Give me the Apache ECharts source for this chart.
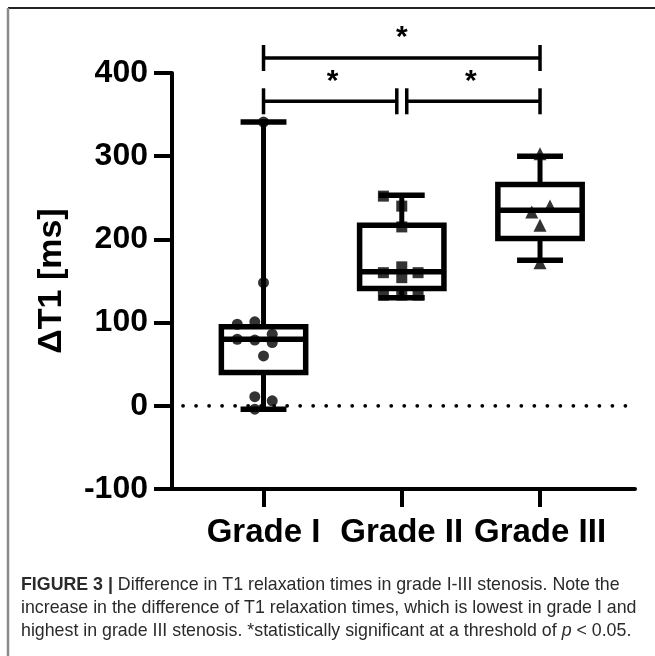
<!DOCTYPE html>
<html>
<head>
<meta charset="utf-8">
<script src="https://cdn.jsdelivr.net/npm/echarts@6/dist/echarts.min.js"></script>
<style>
html,body{margin:0;padding:0;background:#fff;}
#chart{width:655px;height:656px;}
</style>
</head>
<body>
<div id="chart"></div>
<script>
// ---- data ----
const categories = ['Grade I', 'Grade II', 'Grade III'];
const yTicks = [-100, 0, 100, 200, 300, 400];
// box statistics per category
const boxLow    = [-4, 130, 175];
const boxQ1     = [40, 141, 201];
const boxMedian = [80, 161, 235];
const boxQ3     = [95, 217, 266];
const boxHigh   = [341, 253, 300];
// individual values
const gradeIValues   = [341, 148, 101, 98, 86, 80, 79, 76, 60, 11, 6, -4];
const gradeIIValues  = [252, 240, 215, 167, 160, 160, 154, 133, 133, 133];
const gradeIIIValues = [303, 240, 233, 217, 172];
// significance comparisons (category index pairs) and label
const sigFrom  = [0, 0, 1];
const sigTo    = [2, 1, 2];
const sigLabel = ['*', '*', '*'];
const captionLines = [
  '{b|FIGURE 3 |} Difference in T1 relaxation times in grade I-III stenosis. Note the',
  'increase in the difference of T1 relaxation times, which is lowest in grade I and',
  'highest in grade III stenosis. *statistically significant at a threshold of {i|p} < 0.05.'
];

// ---- layout (not data) ----
const jitterI   = [0, 0, -0.063, -0.19, 0.063, -0.19, -0.063, 0.063, 0, -0.063, 0.063, -0.063];
const jitterII  = [-0.133, 0, 0, 0, -0.133, 0.118, 0, -0.133, 0, 0.118];
const jitterIII = [0, 0.072, -0.06, 0, 0];
const sigLevel  = [418, 366, 366];   // y level of bracket (axis units)
const sigGap    = [[0, 0], [0, -0.036], [0.036, 0]];
const FONT = '"Liberation Sans", Arial, Helvetica, sans-serif';
const CAP = 17.8;

const chart = echarts.init(document.getElementById('chart'), null, {renderer: 'canvas'});

const boxData = categories.map((c, i) => [i + 1, boxLow[i], boxQ1[i], boxMedian[i], boxQ3[i], boxHigh[i]]);
const sigData = sigFrom.map((f, i) => [f + 1 + sigGap[i][0], sigTo[i] + 1 + sigGap[i][1], sigLevel[i], i]);

function pts(values, jit, idx) {
  return values.map((v, k) => [idx + 1 + jit[k], v]);
}

const option = {
  animation: false,
  backgroundColor: '#fff',
  grid: {left: 172, right: 20, top: 73, bottom: 167},
  xAxis: {
    type: 'value', min: 0.338, max: 3.687,
    splitLine: {show: false},
    axisLine: {show: true, onZero: false, lineStyle: {color: '#000', width: 4}},
    axisTick: {show: true, customValues: [1, 2, 3], length: 18, lineStyle: {color: '#000', width: 4}},
    axisLabel: {
      show: true, customValues: [1, 2, 3], margin: 27,
      formatter: v => categories[Math.round(v) - 1] || '',
      color: '#000', fontSize: 33, fontWeight: 'bold', fontFamily: FONT
    }
  },
  yAxis: {
    type: 'value', min: -100, max: 400, interval: 100,
    name: 'ΔT1 [ms]', nameLocation: 'middle', nameGap: 103,
    nameTextStyle: {color: '#000', fontSize: 34, fontWeight: 'bold', fontFamily: FONT},
    splitLine: {show: false},
    axisLine: {show: true, onZero: false, lineStyle: {color: '#000', width: 4}},
    axisTick: {show: true, length: 18, lineStyle: {color: '#000', width: 4}},
    axisLabel: {margin: 24, color: '#000', fontSize: 32, fontWeight: 'bold', fontFamily: FONT}
  },
  series: [
    {
      type: 'line', silent: true, symbol: 'none',
      data: [[0.338 + 0.08, 0], [3.687 - 0.03, 0]],
      lineStyle: {color: '#000', width: 3.8, type: [0.01, 13], cap: 'round'},
      z: 1
    },
    {
      type: 'custom', z: 2, clip: false,
      data: boxData,
      renderItem: function (params, api) {
        const x = api.value(0);
        const pLow = api.coord([x, api.value(1)]);
        const pQ1 = api.coord([x, api.value(2)]);
        const pMed = api.coord([x, api.value(3)]);
        const pQ3 = api.coord([x, api.value(4)]);
        const pHigh = api.coord([x, api.value(5)]);
        const halfBox = api.size([0.61, 0])[0] / 2;
        const halfCap = api.size([0.332, 0])[0] / 2;
        const cx = pMed[0];
        const st = {stroke: '#000', lineWidth: 5.5, fill: null};
        return {
          type: 'group',
          children: [
            {type: 'line', shape: {x1: cx, y1: pHigh[1], x2: cx, y2: pQ3[1]}, style: {stroke: '#000', lineWidth: 5}},
            {type: 'line', shape: {x1: cx, y1: pQ1[1], x2: cx, y2: pLow[1]}, style: {stroke: '#000', lineWidth: 5}},
            {type: 'line', shape: {x1: cx - halfCap, y1: pHigh[1], x2: cx + halfCap, y2: pHigh[1]}, style: st},
            {type: 'line', shape: {x1: cx - halfCap, y1: pLow[1], x2: cx + halfCap, y2: pLow[1]}, style: st},
            {type: 'rect', shape: {x: cx - halfBox, y: pQ3[1], width: 2 * halfBox, height: pQ1[1] - pQ3[1]}, style: {stroke: '#000', lineWidth: 5.5, fill: 'rgba(0,0,0,0)'}},
            {type: 'line', shape: {x1: cx - halfBox, y1: pMed[1], x2: cx + halfBox, y2: pMed[1]}, style: st}
          ]
        };
      }
    },
    {
      type: 'scatter', z: 3, symbol: 'circle', symbolSize: 11,
      itemStyle: {color: '#000'}, data: pts(gradeIValues, jitterI, 0)
    },
    {
      type: 'scatter', z: 3, symbol: 'rect', symbolSize: 11,
      itemStyle: {color: '#000'}, data: pts(gradeIIValues, jitterII, 1)
    },
    {
      type: 'scatter', z: 3, symbol: 'triangle', symbolSize: 13,
      itemStyle: {color: '#000'}, data: pts(gradeIIIValues, jitterIII, 2)
    },
    {
      type: 'custom', z: 4, clip: false,
      data: sigData,
      renderItem: function (params, api) {
        const x1 = api.value(0), x2 = api.value(1), lv = api.value(2);
        const idx = api.value(3);
        const p1 = api.coord([x1, lv]);
        const p2 = api.coord([x2, lv]);
        const tickH = 13;
        const st = {stroke: '#000', lineWidth: 3.5};
        const midX = (api.coord([sigFrom[idx] + 1, lv])[0] + api.coord([sigTo[idx] + 1, lv])[0]) / 2;
        return {
          type: 'group',
          children: [
            {type: 'line', shape: {x1: p1[0], y1: p1[1], x2: p2[0], y2: p2[1]}, style: st},
            {type: 'line', shape: {x1: p1[0], y1: p1[1] - tickH, x2: p1[0], y2: p1[1] + tickH}, style: st},
            {type: 'line', shape: {x1: p2[0], y1: p2[1] - tickH, x2: p2[0], y2: p2[1] + tickH}, style: st},
            {type: 'text', style: {text: sigLabel[idx], x: midX, y: p1[1] - 20, align: 'center', verticalAlign: 'middle',
              font: 'bold 30px ' + FONT, fill: '#000'}}
          ]
        };
      }
    }
  ],
  graphic: [
    {type: 'line', shape: {x1: 8, y1: 8, x2: 655, y2: 8}, style: {stroke: '#222', lineWidth: 2}},
    {type: 'line', shape: {x1: 8, y1: 8, x2: 8, y2: 656}, style: {stroke: '#8a8a8a', lineWidth: 2.5}},
    ...captionLines.map((t, i) => ({
      type: 'text', left: 21, top: 576 + i * 23,
      style: {
        text: t, fontSize: CAP, fontFamily: FONT, fill: '#2a2a2a',
        rich: {
          b: {fontWeight: 'bold', fontSize: CAP, fontFamily: FONT, fill: '#2a2a2a'},
          i: {fontStyle: 'italic', fontSize: CAP, fontFamily: FONT, fill: '#2a2a2a'}
        }
      }
    }))
  ]
};
chart.setOption(option);
</script>
</body>
</html>
